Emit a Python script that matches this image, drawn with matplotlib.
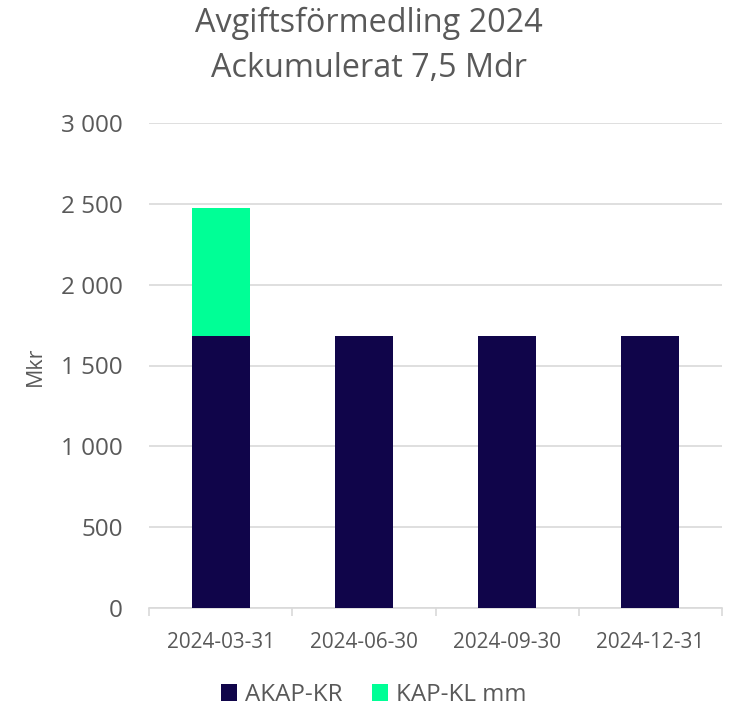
import matplotlib.pyplot as plt
import numpy as np

plt.rcParams['font.family'] = ['Open Sans', 'DejaVu Sans']

quarters = ['2024-03-31', '2024-06-30', '2024-09-30', '2024-12-31']
akap_kr = [1682, 1682, 1682, 1682]
kap_kl = [792, 0, 0, 0]
yticks = [0, 500, 1000, 1500, 2000, 2500, 3000]

navy = '#10054A'
green = '#00FF96'
text_col = '#595959'
grid_col = '#D9D9D9'

W, H = 739, 708
fig = plt.figure(figsize=(W / 100, H / 100), dpi=100)
renderer = fig.canvas.get_renderer()


def fit_size(s, width):
    # font size (pt) that gives the string this width in pixels, and its height then
    t = fig.text(0, 0, s, fontsize=10)
    bb = t.get_window_extent(renderer)
    t.remove()
    k = width / bb.width
    return 10 * k, bb.height * k


ax = fig.add_axes([149 / W, 100 / H, 573 / W, 485 / H])

x = np.arange(len(quarters))
w = 0.405
ax.bar(x, akap_kr, w, color=navy, label='AKAP-KR', zorder=3)
ax.bar(x, kap_kl, w, bottom=akap_kr, color=green, label='KAP-KL mm', zorder=3)

ax.set_xlim(-0.5, len(quarters) - 0.5)
ax.set_ylim(0, 3000)

ysize, _ = fit_size('3 000', 62)
ax.set_yticks(yticks)
ax.set_yticklabels([f'{v:,}'.replace(',', ' ') for v in yticks])
ax.yaxis.grid(True, color=grid_col, linewidth=1.2, zorder=0)
ax.tick_params(axis='y', length=0, pad=26 * 0.72, labelsize=ysize, labelcolor=text_col)

xsize, xh = fit_size('2024-03-31', 108)
ax.set_xticks(x)
ax.set_xticklabels(quarters)
ax.tick_params(axis='x', length=0, pad=(35 - xh / 2) * 0.72, labelsize=xsize, labelcolor=text_col)
ax.set_xticks(np.arange(-0.5, len(quarters)), minor=True)
ax.tick_params(axis='x', which='minor', length=6, color=grid_col, width=1.2)

for s in ['top', 'right', 'left']:
    ax.spines[s].set_visible(False)
ax.spines['bottom'].set_color(grid_col)
ax.spines['bottom'].set_linewidth(1.2)

msize, _ = fit_size('Mkr', 39)
fig.text(35 / W, 1 - 366 / H, 'Mkr', rotation=90, ha='center', va='center',
         fontsize=msize, color=text_col)

tsize, _ = fit_size('Avgiftsförmedling 2024', 348)
fig.text(369 / W, 1 - 32 / H, 'Avgiftsförmedling 2024', ha='center', va='baseline',
         fontsize=tsize, color=text_col)
fig.text(369 / W, 1 - 77 / H, 'Ackumulerat 7,5 Mdr', ha='center', va='baseline',
         fontsize=tsize, color=text_col)

lsize, _ = fit_size('AKAP-KR', 97)
lpx = lsize * 100 / 72
ax.legend(loc='center', bbox_to_anchor=((374 - 149) / 573, -(695 - 608) / 485), ncol=2,
          frameon=False, fontsize=lsize, labelcolor=text_col,
          handlelength=16 / lpx, handleheight=16 / lpx,
          handletextpad=8 / lpx, columnspacing=29 / lpx)

fig.savefig('out.png', dpi=100)
